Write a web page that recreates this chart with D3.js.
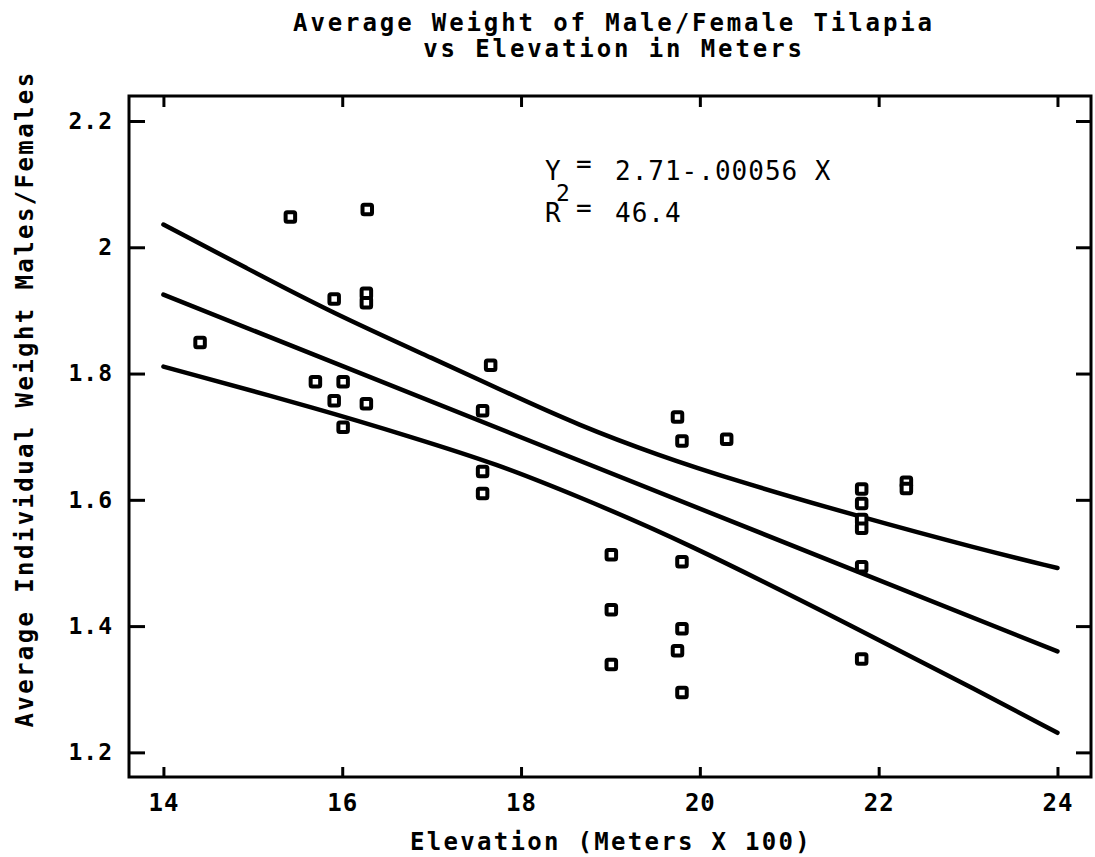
<!DOCTYPE html>
<html>
<head>
<meta charset="utf-8">
<script src="https://cdn.jsdelivr.net/npm/d3@7"></script>
<style>
  html, body { margin: 0; padding: 0; background: #fff; }
  .canvas { width: 1095px; height: 857px; }
</style>
</head>
<body>
<div class="canvas"></div>
<script>
/*--------------------------------
  DATA
--------------------------------*/
const xTicks = [14, 16, 18, 20, 22, 24];
const yTicks = [1.2, 1.4, 1.6, 1.8, 2.0, 2.2];

// elevation in meters x 100, average weight males/females
const elevation = [14.41, 15.42, 16.28, 15.91, 16.27, 16.27, 15.70, 16.01, 15.91, 16.27, 16.01,
  17.66, 17.57, 17.57, 17.57, 19.75, 19.80, 20.30, 21.81, 21.81, 21.81, 21.81, 22.31, 22.31,
  21.81, 19.01, 19.80, 19.01, 19.80, 19.75, 19.01, 19.80, 21.81];
const weight = [1.849, 2.048, 2.060, 1.918, 1.927, 1.912, 1.787, 1.787, 1.757, 1.752, 1.715,
  1.813, 1.741, 1.645, 1.610, 1.731, 1.693, 1.696, 1.617, 1.594, 1.569, 1.555, 1.628, 1.618,
  1.494, 1.513, 1.502, 1.426, 1.396, 1.361, 1.339, 1.295, 1.348];

// fitted line and confidence band
const fitX = [14, 24];
const fitY = [1.925, 1.360];
const upperX = [14, 14.93, 15.86, 17.09, 17.73, 18.66, 19.55, 20.34, 21.79, 23.13, 24];
const upperY = [2.036, 1.967, 1.898, 1.819, 1.777, 1.717, 1.670, 1.633, 1.573, 1.522, 1.492];
const lowerX = [14, 15.79, 16.76, 17.73, 18.66, 19.78, 21.79, 23.13, 24];
const lowerY = [1.811, 1.742, 1.700, 1.657, 1.604, 1.537, 1.394, 1.296, 1.231];

/*--------------------------------
  SETUP
--------------------------------*/
const svg = d3.select('.canvas')
  .append('svg')
  .attr('width', 1095)
  .attr('height', 857);

const margin = {
  top: 96, right: 4, bottom: 80, left: 129,
};
const graphWidth = 1095 - margin.left - margin.right;
const graphHeight = 857 - margin.top - margin.bottom;

const graph = svg.append('g')
  .attr('transform', `translate(${margin.left}, ${margin.top})`);

const mono = "'DejaVu Sans Mono', monospace";

const x = d3.scaleLinear()
  .domain([13.615, 24.375])
  .range([0, graphWidth]);

const y = d3.scaleLinear()
  .domain([1.161, 2.2396])
  .range([graphHeight, 0]);

/*--------------------------------
  AXES (ticks point inward)
--------------------------------*/
const styleAxis = size => (g) => {
  g.select('.domain').remove();
  g.selectAll('.tick line').attr('stroke', '#000').attr('stroke-width', 3);
  g.selectAll('text')
    .attr('fill', '#000')
    .style('font-family', mono)
    .style('font-weight', 'bold')
    .style('font-size', `${size}px`)
    .style('letter-spacing', '1px');
};

graph.append('g')
  .attr('transform', `translate(0, ${graphHeight})`)
  .call(d3.axisBottom(x).tickValues(xTicks).tickSize(-10).tickPadding(17)
    .tickFormat(d3.format('d')))
  .call(styleAxis(24));

graph.append('g')
  .call(d3.axisTop(x).tickValues(xTicks).tickSize(-11).tickFormat(''))
  .call(styleAxis(24));

graph.append('g')
  .call(d3.axisLeft(y).tickValues(yTicks).tickSize(-16).tickPadding(16)
    .tickFormat(d => (d === 2 ? '2' : d3.format('.1f')(d))))
  .call(styleAxis(23));

graph.append('g')
  .attr('transform', `translate(${graphWidth}, 0)`)
  .call(d3.axisRight(y).tickValues(yTicks).tickSize(-15).tickFormat(''))
  .call(styleAxis(23));

// frame
graph.append('rect')
  .attr('width', graphWidth)
  .attr('height', graphHeight)
  .attr('fill', 'none')
  .attr('stroke', '#000')
  .attr('stroke-width', 3);

/*--------------------------------
  LINES
--------------------------------*/
const line = d3.line()
  .x(d => x(d[0]))
  .y(d => y(d[1]))
  .curve(d3.curveBasis);

const bands = [
  d3.zip(upperX, upperY),
  d3.zip(fitX, fitY),
  d3.zip(lowerX, lowerY),
];

graph.selectAll('path.band')
  .data(bands)
  .enter()
  .append('path')
  .attr('class', 'band')
  .attr('d', line)
  .attr('fill', 'none')
  .attr('stroke', '#000')
  .attr('stroke-width', 4.5)
  .attr('stroke-linecap', 'round');

/*--------------------------------
  POINTS
--------------------------------*/
const size = 9.5;
graph.selectAll('rect.pt')
  .data(d3.zip(elevation, weight))
  .enter()
  .append('rect')
  .attr('class', 'pt')
  .attr('x', d => x(d[0]) - size / 2)
  .attr('y', d => y(d[1]) - size / 2)
  .attr('width', size)
  .attr('height', size)
  .attr('rx', 1.5)
  .attr('fill', '#fff')
  .attr('stroke', '#000')
  .attr('stroke-width', 4);

/*--------------------------------
  TEXT
--------------------------------*/
const titleStyle = sel => sel
  .attr('x', 614)
  .attr('text-anchor', 'middle')
  .style('font-family', mono)
  .style('font-weight', 'bold')
  .style('font-size', '24px')
  .style('letter-spacing', '2.9px');

svg.append('text').call(titleStyle).attr('y', 31)
  .text('Average Weight of Male/Female Tilapia');
svg.append('text').call(titleStyle).attr('y', 57)
  .text('vs Elevation in Meters');

svg.append('text')
  .attr('x', 611)
  .attr('y', 850)
  .attr('text-anchor', 'middle')
  .style('font-family', mono)
  .style('font-weight', 'bold')
  .style('font-size', '24px')
  .style('letter-spacing', '2.3px')
  .text('Elevation (Meters X 100)');

svg.append('text')
  .attr('transform', 'translate(33, 399) rotate(-90)')
  .attr('text-anchor', 'middle')
  .style('font-family', mono)
  .style('font-weight', 'bold')
  .style('font-size', '24px')
  .style('letter-spacing', '2.4px')
  .text('Average Individual Weight Males/Females');

// regression annotation, each line one text element
const note = svg.append('g')
  .style('font-family', mono)
  .style('font-size', '26px')
  .attr('fill', '#000');

const eq = note.append('text').attr('x', 545).attr('y', 180);
eq.append('tspan').text('Y');
eq.append('tspan').attr('x', 576).attr('dy', -7).text('=');
eq.append('tspan').attr('x', 615).attr('dy', 7)
  .style('letter-spacing', '1px').text('2.71-.00056 X');

const r2 = note.append('text').attr('x', 545).attr('y', 222);
r2.append('tspan').text('R');
r2.append('tspan').attr('x', 556).attr('dy', -21).style('font-size', '23px').text('2');
r2.append('tspan').attr('x', 576).attr('dy', 16).text('=');
r2.append('tspan').attr('x', 615).attr('dy', 5)
  .style('letter-spacing', '1px').text('46.4');
</script>
</body>
</html>
